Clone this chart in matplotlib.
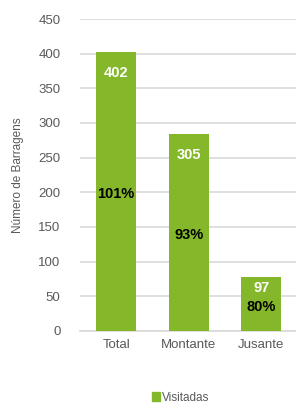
import matplotlib
matplotlib.use('Agg')
import matplotlib.pyplot as plt
from matplotlib.patches import Patch

categorias = ['Total', 'Montante', 'Jusante']
visitadas = [402, 284, 78]
rotulos = ['402', '305', '97']
percentagens = ['101%', '93%', '80%']

verde = '#84B82A'
cinza = '#595959'

plt.rcParams['font.family'] = ['Liberation Sans', 'DejaVu Sans']

fig = plt.figure(figsize=(2.96, 4.05), dpi=100)
ax = fig.add_axes([0.27, 0.183, 0.735, 0.77])

x = range(len(categorias))
ax.bar(x, visitadas, width=0.55, color=verde, zorder=3)

for i, h in enumerate(visitadas):
    ax.text(i, max(h - 30, 0.8 * h), rotulos[i], ha='center', va='center',
            color='white', fontsize=10.5, fontweight='bold', zorder=4)
    ax.text(i, h / 2 - 4, percentagens[i], ha='center', va='center',
            color='black', fontsize=10.5, fontweight='bold', zorder=4)

ax.set_xlim(-0.5, 2.5)
ax.set_ylim(0, 450)
ax.set_yticks(range(0, 451, 50))
ax.set_xticks(list(x))
ax.set_xticklabels(categorias)
ax.yaxis.grid(True, color='#D9D9D9', linewidth=1.2, zorder=0)
for s in ['top', 'right', 'left']:
    ax.spines[s].set_visible(False)
ax.spines['bottom'].set_color('#D9D9D9')
ax.spines['bottom'].set_linewidth(1.2)
ax.tick_params(axis='both', length=0, colors=cinza, labelsize=9.5)
ax.tick_params(axis='y', pad=14)
ax.tick_params(axis='x', pad=6)
ax.set_ylabel('Número de Barragens', color=cinza, fontsize=8.5, labelpad=10)

fig.legend(handles=[Patch(color=verde, label='Visitadas')], loc='center',
           bbox_to_anchor=(0.61, 0.018), frameon=False, fontsize=8.5,
           handlelength=0.7, handleheight=0.7, handletextpad=0.2,
           labelcolor=cinza)

fig.savefig('out.png', dpi=100)
